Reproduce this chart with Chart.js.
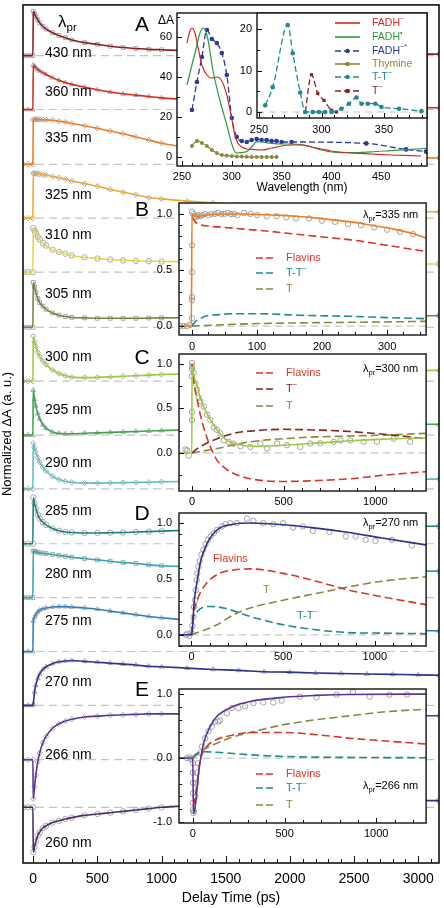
<!DOCTYPE html>
<html>
<head>
<meta charset="utf-8">
<script src="https://cdn.jsdelivr.net/npm/chart.js@4.4.0/dist/chart.umd.min.js"></script>
<style>
  body { margin: 0; background: #fff; }
  #wrap { position: relative; width: 444px; height: 908px; overflow: hidden; }
  canvas { position: absolute; }
</style>
</head>
<body>
<div id="wrap">
  <canvas id="main"></canvas>
  <canvas id="ca"></canvas>
  <canvas id="cai"></canvas>
  <canvas id="cb"></canvas>
  <canvas id="cc"></canvas>
  <canvas id="cd"></canvas>
  <canvas id="ce"></canvas>
</div>
<script>
// ---- main stacked kinetic traces ----
const T = [-80, -40, -3, 0, 10, 20, 35, 50, 75, 100, 150, 200, 250, 300, 400, 500, 600, 700, 800, 900, 1000,
  1200, 1400, 1600, 1800, 2000, 2200, 2400, 2600, 2800, 3000, 3162];
const traceNames = ['430 nm', '360 nm', '335 nm', '325 nm', '310 nm', '305 nm', '300 nm', '295 nm',
  '290 nm', '285 nm', '280 nm', '275 nm', '270 nm', '266 nm', '260 nm'];
const traceOffsets = [17.98, 16.78, 15.56, 14.36, 13.16, 11.93, 10.73, 9.53, 8.33, 7.11, 5.91, 4.71, 3.51, 2.3, 1.24];
const k430 = [0,0,0, 0.99,0.93,0.87,0.8,0.73,0.65,0.59,0.51,0.45,0.4,0.35, 0.29,0.25,0.21,0.18,0.16,0.14,0.13, 0.11,0.1,0.09,0.08,0.07,0.06,0.05,0.05,0.04,0.04, 0.03];
const k360 = [0,0,0, 0.99,0.96,0.93,0.89,0.86,0.82,0.78,0.71,0.65,0.6,0.56, 0.5,0.44,0.39,0.35,0.32,0.29,0.26, 0.22,0.19,0.16,0.13,0.11,0.09,0.08,0.06,0.05,0.04, 0.04];
const k335 = [0,0,0, 0.99,1.0,1.0,1.0,1.0,0.99,0.99,0.98,0.96,0.94,0.91, 0.86,0.8,0.74,0.68,0.61,0.54,0.47, 0.38,0.32,0.28,0.25,0.22,0.2,0.18,0.17,0.16,0.15, 0.14];
const k325 = [0,0,0, 1.0,1.0,0.99,0.99,0.98,0.97,0.96,0.93,0.9,0.87,0.83, 0.77,0.71,0.64,0.58,0.52,0.46,0.43, 0.38,0.34,0.3,0.27,0.24,0.22,0.2,0.18,0.16,0.15, 0.14];
const k310 = [0,0,0, 0.98,0.92,0.86,0.79,0.73,0.65,0.59,0.5,0.45,0.41,0.37, 0.33,0.3,0.28,0.26,0.25,0.24,0.235, 0.23,0.22,0.215,0.21,0.205,0.2,0.195,0.19,0.185,0.18, 0.18];
const k305 = [0,0,0, 1.0,0.9,0.78,0.64,0.55,0.47,0.4,0.32,0.27,0.24,0.22, 0.21,0.2,0.2,0.2,0.2,0.205,0.21, 0.215,0.22,0.225,0.23,0.23,0.235,0.24,0.245,0.25,0.255, 0.26];
const k300 = [0,0,0, 1.0,0.88,0.78,0.64,0.55,0.45,0.37,0.25,0.17,0.12,0.09, 0.08,0.085,0.095,0.11,0.12,0.135,0.15, 0.165,0.18,0.19,0.2,0.21,0.22,0.225,0.23,0.235,0.24, 0.24];
const k295 = [0,0,0, 1.0,0.8,0.65,0.48,0.36,0.23,0.15,0.07,0.04,0.03,0.03, 0.04,0.05,0.06,0.07,0.08,0.09,0.1, 0.12,0.14,0.16,0.17,0.19,0.2,0.21,0.22,0.23,0.24, 0.24];
const k290 = [0,0,0, 1.02,0.92,0.82,0.7,0.6,0.49,0.4,0.28,0.21,0.17,0.15, 0.13,0.13,0.135,0.14,0.145,0.15,0.16, 0.17,0.18,0.19,0.195,0.2,0.205,0.21,0.215,0.22,0.22, 0.22];
const k285 = [0,0,0, 1.03,0.9,0.79,0.65,0.56,0.48,0.42,0.34,0.29,0.26,0.25, 0.24,0.24,0.245,0.25,0.26,0.27,0.28, 0.3,0.32,0.33,0.35,0.36,0.37,0.38,0.38,0.39,0.39, 0.39];
const k280 = [0,0,0, 1.04,1.03,1.02,1.01,1.0,0.99,0.98,0.96,0.94,0.92,0.9, 0.87,0.84,0.81,0.78,0.76,0.73,0.71, 0.69,0.67,0.66,0.65,0.64,0.63,0.62,0.61,0.6,0.59, 0.59];
const k275 = [0,0,0, 0.68,0.76,0.82,0.88,0.92,0.95,0.97,0.99,1.0,1.0,0.99, 0.97,0.94,0.9,0.86,0.82,0.78,0.75, 0.7,0.65,0.61,0.58,0.55,0.53,0.51,0.49,0.48,0.47, 0.46];
const k270 = [0,0,0, 0.03,0.3,0.45,0.6,0.7,0.8,0.86,0.93,0.97,0.99,1.0, 0.98,0.96,0.94,0.92,0.9,0.87,0.86, 0.83,0.8,0.78,0.75,0.74,0.72,0.71,0.7,0.69,0.68, 0.67];
const k266 = [0,0,0, -0.87,-0.6,-0.35,-0.05,0.15,0.38,0.52,0.7,0.8,0.86,0.9, 0.95,0.97,0.99,1.0,1.01,1.02,1.02, 1.02,1.02,1.01,1.01,1.0,1.0,1.0,0.99,0.99,0.98, 0.98];
const k260 = [0,0,0, -1.0,-0.88,-0.76,-0.63,-0.55,-0.46,-0.41,-0.34,-0.3,-0.26,-0.23, -0.18,-0.15,-0.12,-0.09,-0.06,-0.03,0.0, 0.03,0.05,0.07,0.09,0.1,0.11,0.12,0.13,0.14,0.15, 0.15];
const traceValues = [k430, k360, k335, k325, k310, k305, k300, k295, k290, k285, k280, k275, k270, k266, k260];
const traceLabelY = [53, 92, 138, 195, 235, 294, 357, 410, 463, 511, 574, 621, 682, 755, 843];

// ---- panel A: steady-state spectra ----
const aRedX = [255,258,260,263,266,270,275,280,285,290,295,300,303,306,310,315,320,330,340,350,360,370,380,390,400,420,440,460,490];
const aRedY = [57,63,64.5,62,55,46,41,39.5,40,38,31,19,11,7,5,4,3.8,3.5,4.5,5.5,6,6,5,4,3,2,1.5,1,0.5];
const aGreenX = [255,260,265,268,272,276,281,288,295,301,305,310,315,320,325,330,340,350,360,370,380,390,400,410,420,440,460,480,495];
const aGreenY = [36,46,56,62,64.5,59,43.5,28.5,16,5,2,2.2,2.7,5,7.7,7.5,6.8,6.5,6.5,6.2,5,3.5,2.5,2.2,2.2,2.6,3.2,3.8,4.3];
const aBlueX = [260,265,270,275,280,285,290,295,300,305,310,315,320,325,330,335,340,345,350,360,435,475,495];
const aBlueY = [23.5,37.5,50,63.5,59,57,52,41,19.5,10,8,7.5,8.5,9,8.5,8.5,8,8,7.5,7.5,6.8,3.8,2.7];
const aThyX = [260,265,270,275,280,285,290,295,300,305,310,315,320,325,330,335,340,345];
const aThyY = [5.5,8,7,5.5,3.5,2,1,0.7,0.5,0.3,0.2,0.1,0,0,0,0,0,0];
const aTTX = [255,261,273,277,283,287,293,298,303,308,316,322,328,332,337,343,348,362,380];
const aTTY = [1.6,6,21,14.2,4.7,0,0,0,0,0,0.8,2,3.5,2,2,2,1.2,0.8,0.2];
const aTmX = [287,292,297,302,308,312];
const aTmY = [0,9,4.5,2.8,0.4,0];

// ---- panel B: 335 nm ----
const bFitT = [-20,-1,0,5,10,20,40,60,80,100,130,160,190,220,250,280,310,340,360];
const bFitV = [0,0,1.0,0.98,0.98,0.99,1.0,1.0,1.0,0.995,0.99,0.98,0.965,0.945,0.925,0.895,0.865,0.825,0.785];
const bFlT = [0,5,10,20,40,80,120,160,200,250,300,360];
const bFlV = [0.97,0.93,0.91,0.895,0.885,0.865,0.845,0.82,0.795,0.765,0.72,0.665];
const bTTT = [0,5,13,20,38,63,104,165,241,302,360];
const bTTV = [0,0.04,0.066,0.087,0.1,0.11,0.11,0.096,0.087,0.075,0.066];
const bThT = [0,89,190,292,360];
const bThV = [0,0.02,0.03,0.036,0.042];
const bObsT = [-18,-13,-8,-3,0,0,0,0,0,0,2,4,6,8,10,13,16,20,25,30,35,40,45,50,55,60,65,70,80,90,100,115,130,145,160,180,200,220,240,260,280,300,320,340];
const bObsV = [0,0,0,0.01,0.07,0.23,0.26,0.48,0.72,1.02,1.0,0.98,0.97,0.98,0.99,0.98,0.99,1.0,0.99,1.0,1.0,1.01,1.0,1.0,1.01,1.0,1.0,0.99,1.01,1.0,0.99,0.98,0.98,0.97,0.96,0.96,0.94,0.93,0.91,0.9,0.88,0.86,0.84,0.82];

// ---- panel C: 300 nm ----
const cFitT = [-71,-1,0,10,27,45,63,100,136,190,245,318,400,500,680,864,1045,1277];
const cFitV = [0,0,0.97,0.87,0.75,0.62,0.52,0.37,0.26,0.14,0.1,0.075,0.078,0.087,0.11,0.136,0.155,0.17];
const cFlT = [0,10,27,45,63,100,136,180,227,318,500,680,864,1045,1277];
const cFlV = [1.0,0.8,0.61,0.43,0.29,0.07,-0.08,-0.17,-0.23,-0.29,-0.32,-0.31,-0.29,-0.25,-0.21];
const cTmT = [0,20,45,90,136,227,318,500,680,864,1045,1277];
const cTmV = [0,0.035,0.07,0.12,0.16,0.22,0.245,0.265,0.257,0.24,0.21,0.16];
const cThT = [0,136,318,500,680,864,1045,1277];
const cThV = [0,0.05,0.125,0.16,0.18,0.19,0.2,0.22];
const cObsT = [-36,-27,-18,0,0,0,0,0,0,9,18,27,36,45,64,82,100,118,136,155,173,200,227,264,318,373,409,464,518,591,645,700,773,809,864,936,1009,1100,1190];
const cObsV = [0.04,0.03,-0.03,1.01,0.97,0.94,0.86,0.46,0.37,0.9,0.78,0.71,0.62,0.58,0.52,0.43,0.37,0.29,0.26,0.22,0.14,0.125,0.105,0.075,0.068,0.105,0.05,0.105,0.087,0.068,0.105,0.11,0.125,0.14,0.14,0.125,0.125,0.16,0.125];

// ---- panel D: 270 nm ----
const dFitT = [-68,-1,5,14,32,50,86,140,230,320,500,680,860,1040,1280];
const dFitV = [0,0,0.045,0.28,0.49,0.66,0.82,0.94,0.99,1.0,0.985,0.955,0.916,0.866,0.805];
const dFlT = [0,5,32,68,140,230,320,500,680,860,1040,1280];
const dFlV = [0,0.12,0.31,0.43,0.54,0.58,0.59,0.55,0.48,0.4,0.34,0.27];
const dTTT = [0,5,32,104,176,320,500,680,860,1040,1280];
const dTTV = [0,0.1,0.21,0.254,0.24,0.164,0.09,0.045,0.02,0.015,0.01];
const dThT = [0,140,230,320,500,680,860,1040,1280];
const dThV = [0,0.09,0.18,0.24,0.31,0.37,0.43,0.48,0.52];
const dObsT = [-30,-22,-12,0,5,11,14,20,23,29,32,38,45,54,65,77,90,104,122,140,167,185,212,248,302,338,392,446,500,554,608,662,752,842,896,950,1004,1094,1202];
const dObsV = [0,0.01,-0.01,0.02,0.08,0.16,0.25,0.31,0.4,0.49,0.55,0.61,0.66,0.72,0.76,0.81,0.85,0.88,0.91,0.94,0.97,0.99,1.0,1.0,1.04,1.02,1.0,0.99,1.0,0.96,0.97,0.93,0.92,0.88,0.88,0.85,0.84,0.85,0.8];

// ---- panel E: 266 nm ----
const eFitT = [-76,-1,3,13,31,58,94,130,221,312,493,674,855,1272];
const eFitV = [0,0,-0.87,-0.75,-0.23,0.23,0.49,0.65,0.81,0.885,0.95,0.98,0.995,1.0];
const eFlT = [3,13,40,76,130,221,312,493,674,855,1036,1272];
const eFlV = [-0.75,-0.6,-0.03,0.18,0.29,0.36,0.4,0.4,0.365,0.31,0.27,0.22];
const eTTT = [0,20,58,130,312,493,674,855,1272];
const eTTV = [0.02,0.07,0.1,0.09,0.05,0.025,0.015,0.01,0.005];
const eThT = [0,58,130,221,312,493,674,855,1036,1272];
const eThV = [0,0.13,0.23,0.33,0.4,0.52,0.6,0.66,0.72,0.765];
const eObsT = [-33,-18,-11,0,0,0,0,0,0,3,6,13,18,22,27,40,49,67,85,103,121,139,149,185,212,248,284,330,384,438,484,583,674,783,873,964,1072,1168];
const eObsV = [0,0.01,-0.015,-0.08,-0.23,-0.39,-0.55,-0.7,-0.81,-0.86,-0.83,-0.6,-0.39,-0.23,-0.08,0.08,0.18,0.31,0.42,0.49,0.57,0.57,0.59,0.7,0.78,0.78,0.81,0.86,0.87,0.87,0.9,0.96,0.95,0.99,1.03,0.96,0.99,0.995];

// ---- styles ----
const FONT = '"Liberation Sans", Arial, Helvetica, sans-serif';
const traceColors = ['#8a1c22', '#d9281f', '#ef7d22', '#f4a62a', '#e6d54a', '#7d7f3c', '#9ccb3b', '#41a34c',
  '#58c0c6', '#1d7f85', '#30a5b3', '#2f7fc0', '#2d3190', '#5b3596', '#4a2a6b'];
const traceMarks = ['rect', 'triangle', 'rectRot', 'rectRot', 'circle', 'rect', 'rectRot', 'triangle',
  'rectRot', 'circle', 'rect', 'triangle', 'triangle', 'rectRot', 'circle'];
const cFlav = '#d8352b', cTT = '#1f8a8f', cThy = '#8a8a3c', cTm = '#8b2323';

Chart.defaults.font.family = FONT;
Chart.defaults.color = '#000';
Chart.defaults.animation = false;
Chart.defaults.events = [];
Chart.defaults.plugins.legend.display = false;
Chart.defaults.plugins.tooltip.enabled = false;

function pts(xs, ys, off) {
  return xs.map((x, i) => ({x: x, y: ys[i] + (off || 0)}));
}
function curve(xs, ys, color, extra) {
  return Object.assign({data: pts(xs, ys), borderColor: color, borderWidth: 1.6, pointRadius: 0,
    cubicInterpolationMode: 'monotone', order: 0}, extra || {});
}
function dashed(xs, ys, color) {
  return curve(xs, ys, color, {borderDash: [8, 4]});
}
function obs(xs, ys) {
  return {data: pts(xs, ys), showLine: false, pointStyle: 'circle', pointRadius: 2.7,
    pointBorderColor: '#9a9a9a', pointBackgroundColor: 'rgba(0,0,0,0)', pointBorderWidth: 0.9, order: 1};
}
function zero(x0, x1) {
  return {data: [{x: x0, y: 0}, {x: x1, y: 0}], borderColor: '#c6c6c6', borderDash: [7, 5],
    borderWidth: 1.2, pointRadius: 0, order: 2};
}

function labelEvery(step, dec) {
  return v => {
    const k = Math.round(v / step);
    return Math.abs(v - k * step) < 1e-6 ? (k * step).toFixed(dec) : '';
  };
}

// rich text with sub/superscripts
function drawRich(ctx, x, y, it) {
  const size = it.size;
  const segs = it.parts.map(p => ({t: p[0], m: p[1], fs: p[1] ? size * 0.68 : size}));
  let w = 0;
  segs.forEach(s => { ctx.font = s.fs + 'px ' + FONT; s.w = ctx.measureText(s.t).width; w += s.w; });
  let cx = it.align === 'center' ? x - w / 2 : it.align === 'right' ? x - w : x;
  ctx.fillStyle = it.color || '#000';
  ctx.textBaseline = 'middle';
  ctx.textAlign = 'left';
  segs.forEach(s => {
    ctx.font = s.fs + 'px ' + FONT;
    const dy = s.m === 1 ? -size * 0.38 : s.m === -1 ? size * 0.32 : 0;
    ctx.fillText(s.t, cx, y + dy);
    cx += s.w;
  });
}
function drawSample(ctx, it, ox, oy) {
  ctx.save();
  ctx.strokeStyle = it.color;
  ctx.lineWidth = 1.6;
  ctx.setLineDash(it.dash || []);
  ctx.beginPath();
  ctx.moveTo(it.x1 - ox, it.y - oy);
  ctx.lineTo(it.x2 - ox, it.y - oy);
  ctx.stroke();
  ctx.setLineDash([]);
  if (it.pt) {
    const mx = (it.x1 + it.x2) / 2 - ox;
    ctx.fillStyle = it.color;
    if (it.pt === 'rect') ctx.fillRect(mx - 2, it.y - oy - 2, 4, 4);
    else { ctx.beginPath(); ctx.arc(mx, it.y - oy, 2.2, 0, Math.PI * 2); ctx.fill(); }
  }
  ctx.restore();
}
function textLayer(items, ox, oy) {
  return {
    id: 'texts',
    afterDraw(chart) {
      const ctx = chart.ctx;
      ctx.save();
      items.forEach(it => {
        if (it.x1 !== undefined) drawSample(ctx, it, ox, oy);
        else drawRich(ctx, it.x - ox, it.y - oy, it);
      });
      ctx.restore();
    }
  };
}
// white plot area, frame and inward ticks
function frameLayer(fill, ticks, lw) {
  return {
    id: 'frame',
    beforeDatasetsDraw(chart) {
      if (!fill) return;
      const a = chart.chartArea, c = chart.ctx;
      c.save();
      c.fillStyle = '#fff';
      c.fillRect(a.left, a.top, a.right - a.left, a.bottom - a.top);
      c.restore();
    },
    afterDatasetsDraw(chart) {
      const a = chart.chartArea, c = chart.ctx;
      c.save();
      c.strokeStyle = '#111';
      c.lineWidth = lw || 1.4;
      c.strokeRect(a.left, a.top, a.right - a.left, a.bottom - a.top);
      c.lineWidth = 1;
      ticks.forEach(t => {
        const s = chart.scales[t.axis];
        for (let k = Math.ceil(s.min / t.step - 1e-9); k * t.step <= s.max + 1e-9; k++) {
          const v = k * t.step;
          const L = Math.abs(v / t.major - Math.round(v / t.major)) < 1e-6 ? t.len : t.mlen;
          const p = Math.round(s.getPixelForValue(v)) + 0.5;
          c.beginPath();
          if (t.axis === 'x') { c.moveTo(p, a.bottom); c.lineTo(p, a.bottom - L); }
          else { c.moveTo(a.left, p); c.lineTo(a.left + L, p); }
          c.stroke();
        }
      });
      c.restore();
    }
  };
}

function axis(min, max, step, lab, dec, pad, extra) {
  return Object.assign({
    type: 'linear', min: min, max: max,
    ticks: {stepSize: step, callback: labelEvery(lab, dec), font: {size: 11}, padding: pad,
      maxRotation: 0, autoSkip: false, includeBounds: false},
    grid: {display: false, drawTicks: false},
    border: {display: false}
  }, extra || {});
}

function makeInset(id, f, pad, xs, ys, datasets, ticks, items) {
  const cv = document.getElementById(id);
  const left = f.l - pad.l, top = f.t - pad.t;
  const w = f.r + pad.r - left, h = f.b + pad.b - top;
  cv.width = w; cv.height = h;
  cv.style.left = left + 'px'; cv.style.top = top + 'px';
  cv.style.width = w + 'px'; cv.style.height = h + 'px';
  xs.afterFit = s => { s.height = pad.b; };
  ys.afterFit = s => { s.width = pad.l; };
  return new Chart(cv, {
    type: 'line',
    data: {datasets: datasets},
    options: {
      responsive: false,
      devicePixelRatio: 1,
      layout: {padding: {top: pad.t, right: pad.r, left: 0, bottom: 0}},
      scales: {x: xs, y: ys}
    },
    plugins: [frameLayer(true, ticks), textLayer(items, left, top)]
  });
}

// ---- main chart ----
const X_MIN = -80, X_MAX = 3162;
const mainDs = [];
traceValues.forEach((vals, i) => {
  const p = pts(T, vals, traceOffsets[i]);
  mainDs.push({data: p, borderColor: traceColors[i], borderWidth: 1.6, pointRadius: 0,
    cubicInterpolationMode: 'monotone', order: 0});
  mainDs.push({data: p, showLine: false, pointStyle: traceMarks[i], pointRadius: 2.7,
    pointBorderColor: '#a0a0a0', pointBackgroundColor: 'rgba(0,0,0,0)', pointBorderWidth: 0.9, order: 1});
  mainDs.push({data: [{x: X_MIN, y: traceOffsets[i]}, {x: X_MAX, y: traceOffsets[i]}],
    borderColor: '#c4c4c4', borderDash: [8, 5], borderWidth: 1.2, pointRadius: 0, order: 2});
});

const mainTexts = traceNames.map((n, i) => ({parts: [[n, 0]], x: 45, y: traceLabelY[i], size: 14}));
[['A', 25], ['B', 210], ['C', 358], ['D', 514], ['E', 690]].forEach(l =>
  mainTexts.push({parts: [[l[0], 0]], x: 142, y: l[1], size: 21, align: 'center'}));
mainTexts.push({parts: [['λ', 0], ['pr', -1]], x: 58, y: 22, size: 17});

const mv = document.getElementById('main');
mv.width = 444; mv.height = 908;
mv.style.left = '0px'; mv.style.top = '0px';
mv.style.width = '444px'; mv.style.height = '908px';
new Chart(mv, {
  type: 'line',
  data: {datasets: mainDs},
  options: {
    responsive: false,
    devicePixelRatio: 1,
    layout: {padding: {top: 3, right: 5, left: 0, bottom: 0}},
    scales: {
      x: {type: 'linear', min: X_MIN, max: X_MAX,
        ticks: {stepSize: 100, callback: labelEvery(500, 0), font: {size: 14}, padding: 8,
          maxRotation: 0, autoSkip: false, includeBounds: false},
        grid: {display: false, drawTicks: false}, border: {display: false},
        title: {display: true, text: 'Delay Time (ps)', font: {size: 14}, padding: {top: 0, bottom: 1}},
        afterFit: s => { s.height = 45; }},
      y: {type: 'linear', min: 0, max: 19.11,
        ticks: {display: false}, grid: {display: false, drawTicks: false}, border: {display: false},
        title: {display: true, text: 'Normalized ΔA (a. u.)', font: {size: 13}, padding: 0},
        afterFit: s => { s.width = 23; }}
    }
  },
  plugins: [frameLayer(false, [{axis: 'x', step: 100, major: 500, len: 7, mlen: 4}], 1.6), textLayer(mainTexts, 0, 0)]
});

// ---- panel A ----
makeInset('ca', {l: 177, t: 13, r: 427, b: 166}, {l: 27, t: 14, r: 4, b: 32},
  axis(245, 496, 10, 50, 0, 4, {title: {display: true, text: 'Wavelength (nm)', font: {size: 12}, padding: {top: 0, bottom: 3}}}),
  axis(-4.5, 72, 10, 20, 0, 5),
  [
    curve(aRedX, aRedY, '#d42a20', {borderWidth: 1.2}),
    curve(aGreenX, aGreenY, '#2e9a3e', {borderWidth: 1.2}),
    curve(aBlueX, aBlueY, '#2b3a9c', {borderWidth: 1.3, borderDash: [6, 3], pointRadius: 2.3, pointBackgroundColor: '#2b3a9c', pointBorderWidth: 0}),
    curve(aThyX, aThyY, cThy, {borderWidth: 1.2, pointRadius: 2, pointBackgroundColor: cThy, pointBorderWidth: 0})
  ],
  [{axis: 'x', step: 10, major: 50, len: 5, mlen: 3}, {axis: 'y', step: 10, major: 20, len: 5, mlen: 3}],
  [{parts: [['ΔA', 0]], x: 166, y: 21, size: 12, align: 'center'}]);

makeInset('cai', {l: 257, t: 13, r: 427, b: 118}, {l: 22, t: 14, r: 4, b: 22},
  axis(248.4, 384.4, 10, 50, 0, 5),
  axis(-1.45, 23.9, 5, 10, 0, 5),
  [
    curve(aTTX, aTTY, cTT, {borderWidth: 1.3, borderDash: [6, 3], pointRadius: 2.3, pointBackgroundColor: cTT, pointBorderWidth: 0}),
    curve(aTmX, aTmY, cTm, {borderWidth: 1.3, borderDash: [6, 3], pointStyle: 'rect', pointRadius: 2.3, pointBackgroundColor: cTm, pointBorderWidth: 0}),
    zero(248.4, 384.4)
  ],
  [{axis: 'x', step: 10, major: 50, len: 5, mlen: 3}, {axis: 'y', step: 5, major: 10, len: 5, mlen: 3}],
  [
    {x1: 335, x2: 360, y: 23, color: '#d42a20'},
    {parts: [['FADH', 0], ['−', 1]], x: 372, y: 23, size: 10.5, color: '#d42a20'},
    {x1: 335, x2: 360, y: 37, color: '#2e9a3e'},
    {parts: [['FADH', 0], ['•', 1]], x: 372, y: 37, size: 10.5, color: '#2e9a3e'},
    {x1: 335, x2: 360, y: 51, color: '#2b3a9c', dash: [6, 3], pt: 'circle'},
    {parts: [['FADH', 0], ['−*', 1]], x: 372, y: 51, size: 10.5, color: '#2b3a9c'},
    {x1: 335, x2: 360, y: 64, color: cThy, pt: 'circle'},
    {parts: [['Thymine', 0]], x: 372, y: 64, size: 10.5, color: cThy},
    {x1: 335, x2: 360, y: 77, color: cTT, dash: [6, 3], pt: 'circle'},
    {parts: [['T-T', 0], ['−', 1]], x: 372, y: 77, size: 10.5, color: cTT},
    {x1: 335, x2: 360, y: 91, color: cTm, dash: [6, 3], pt: 'rect'},
    {parts: [['T', 0], ['−', 1]], x: 372, y: 91, size: 10.5, color: cTm}
  ]);

// ---- panels B-E ----
const insetPad = {l: 29, t: 14, r: 4, b: 20};
function lam(txt, y) {
  return {parts: [['λ', 0], ['pr', -1], [txt, 0]], x: 363, y: y, size: 11};
}
function leg(y, color, parts) {
  return [{x1: 256, x2: 273, y: y, color: color, dash: [7, 3]}, {parts: parts, x: 286, y: y, size: 11, color: color}];
}

makeInset('cb', {l: 179, t: 203, r: 427, b: 335}, insetPad,
  axis(-20, 360, 25, 100, 0, 5), axis(-0.08, 1.098, 0.1, 0.5, 1, 7),
  [curve(bFitT, bFitV, '#ef7d22'), obs(bObsT, bObsV), dashed(bFlT, bFlV, cFlav), dashed(bTTT, bTTV, cTT),
    dashed(bThT, bThV, cThy), zero(-20, 360)],
  [{axis: 'x', step: 25, major: 100, len: 5, mlen: 3}, {axis: 'y', step: 0.1, major: 0.5, len: 5, mlen: 3}],
  [lam('=335 nm', 215)].concat(leg(258, cFlav, [['Flavins', 0]]), leg(273, cTT, [['T-T', 0], ['−', 1]]), leg(289, cThy, [['T', 0]])));

makeInset('cc', {l: 179, t: 354, r: 427, b: 491}, insetPad,
  axis(-71, 1277, 100, 500, 0, 4), axis(-0.427, 1.11, 0.25, 0.5, 1, 7),
  [curve(cFitT, cFitV, '#9ccb3b'), obs(cObsT, cObsV), dashed(cFlT, cFlV, cFlav), dashed(cTmT, cTmV, cTm),
    dashed(cThT, cThV, cThy), zero(-71, 1277)],
  [{axis: 'x', step: 100, major: 500, len: 5, mlen: 3}, {axis: 'y', step: 0.25, major: 0.5, len: 5, mlen: 3}],
  [lam('=300 nm', 369)].concat(leg(373, cFlav, [['Flavins', 0]]), leg(389, cTm, [['T', 0], ['−', 1]]), leg(406, cThy, [['T', 0]])));

makeInset('cd', {l: 179, t: 513, r: 427, b: 646}, insetPad,
  axis(-68, 1280, 100, 500, 0, 4), axis(-0.1, 1.09, 0.1, 0.5, 1, 7),
  [curve(dFitT, dFitV, '#2d3190'), obs(dObsT, dObsV), dashed(dFlT, dFlV, cFlav), dashed(dTTT, dTTV, cTT),
    dashed(dThT, dThV, cThy), zero(-68, 1280)],
  [{axis: 'x', step: 100, major: 500, len: 5, mlen: 3}, {axis: 'y', step: 0.1, major: 0.5, len: 5, mlen: 3}],
  [lam('=270 nm', 523),
    {parts: [['Flavins', 0]], x: 213, y: 559, size: 11, color: cFlav},
    {parts: [['T', 0]], x: 263, y: 590, size: 11, color: cThy},
    {parts: [['T-T', 0], ['−', 1]], x: 297, y: 616, size: 11, color: cTT}]);

makeInset('ce', {l: 179, t: 689, r: 427, b: 823}, insetPad,
  axis(-76, 1272, 100, 500, 0, 4), axis(-1.016, 1.08, 0.2, 1, 1, 7),
  [curve(eFitT, eFitV, '#5b3596'), obs(eObsT, eObsV), dashed(eFlT, eFlV, cFlav), dashed(eTTT, eTTV, cTT),
    dashed(eThT, eThV, cThy), zero(-76, 1272)],
  [{axis: 'x', step: 100, major: 500, len: 5, mlen: 3}, {axis: 'y', step: 0.2, major: 1, len: 5, mlen: 3}],
  [lam('=266 nm', 786)].concat(leg(774, cFlav, [['Flavins', 0]]), leg(788, cTT, [['T-T', 0], ['−', 1]]), leg(805, cThy, [['T', 0]])));
</script>
</body>
</html>
